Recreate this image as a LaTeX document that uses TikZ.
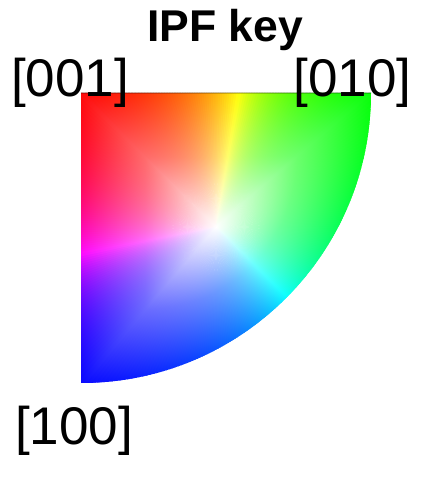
\documentclass[tikz,border=0pt]{standalone}
\usepackage{fontspec}
\setmainfont{Liberation Sans}
\tikzset{
  lbl/.style={inner sep=0pt, anchor=base, font=\fontsize{53}{60}\selectfont},
  ttl/.style={inner sep=0pt, anchor=base, font=\fontsize{44.5}{50}\selectfont\bfseries}
}
\begin{document}
\begin{tikzpicture}[x=1pt,y=1pt]
\useasboundingbox (0,0) rectangle (429,496);
\coordinate (O) at (81,403);
\coordinate (E) at (371,403);
\coordinate (W) at (216,269);
\begin{scope}
  \clip (O) -- (E) arc[start angle=0, end angle=-90, radius=290pt] -- cycle;
  \foreach \sa/\sb/\hs/\ty in {135/80/0/1, 80/41/60/2, 41/-45/120/1, -45/-131/180/2, -131/-169/240/1, -169/-225/300/2} {
    \pgfmathtruncatemacro{\n}{abs(\sa-\sb)}
    \foreach \i in {1,...,\n} {
      \pgfmathsetmacro{\fr}{(\i-0.5)/\n}
      \pgfmathsetmacro{\tm}{\sa+(\sb-\sa)*\fr}
      \pgfmathsetmacro{\hu}{\ty==1 ? \hs+60*\fr/(2-\fr) : \hs+60-60*(1-\fr)/(1+\fr)}
      \pgfmathsetmacro{\vd}{1.35*cos(\tm)-1.34*sin(\tm)}
      \pgfmathsetmacro{\La}{100*(-\vd+sqrt(\vd*\vd+4.7919))}
      \pgfmathsetmacro{\Lt}{sin(\tm)>0.02 ? 134/max(sin(\tm),0.02) : 1000}
      \pgfmathsetmacro{\Ll}{cos(\tm)<-0.02 ? 135/max(-cos(\tm),0.02) : 1000}
      \pgfmathsetmacro{\Lr}{1.05*min(\La,min(\Lt,\Ll))}
      \pgfmathsetmacro{\hw}{\Lr*tan(0.8*abs(\sb-\sa)/\n)}
      \definecolor{wc}{Hsb}{\hu,1,1}
      \begin{scope}[transform canvas={shift={(W)}, rotate=\tm}]
        \shade[left color=white, right color=wc, middle color=wc!58!white] (0,0) -- (\Lr,-\hw) -- (\Lr,\hw) -- cycle;
      \end{scope}
    }
  }
\end{scope}
\draw[black, opacity=0.2, line width=1.5pt] (O) -- (E);
\node[ttl] (title) at (225,454) {IPF key};
\node[lbl] (l001) at (70,399) {[001]};
\node[lbl] (l010) at (352.5,399) {[010]};
\node[lbl] (l100) at (74,51) {[100]};
\end{tikzpicture}
\end{document}
